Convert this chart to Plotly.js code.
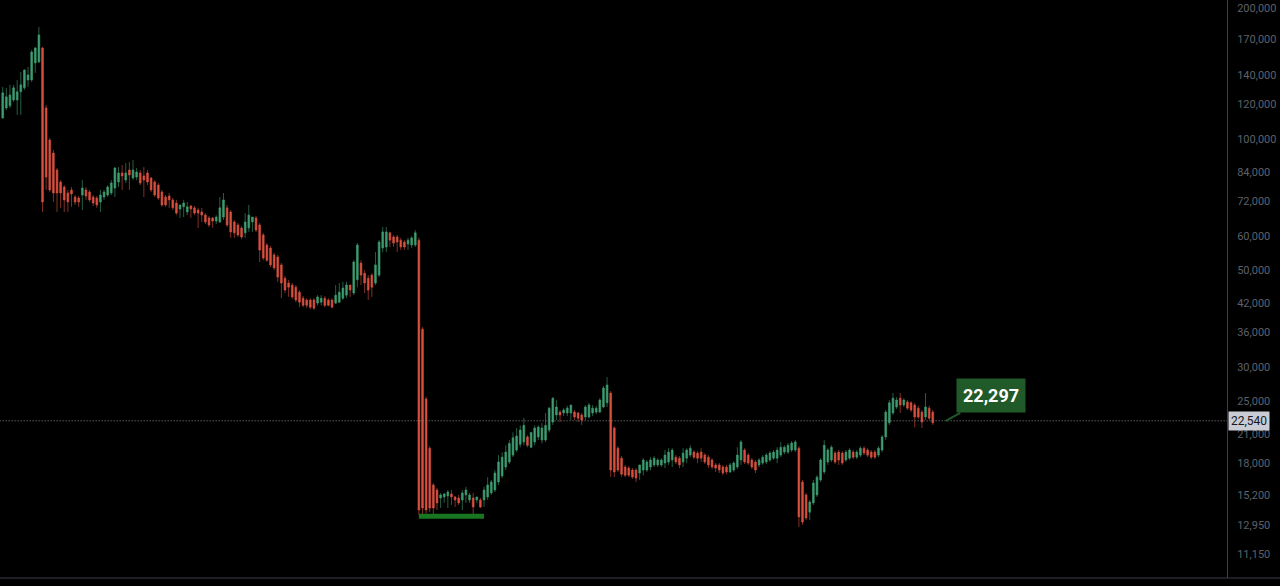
<!DOCTYPE html>
<html><head><meta charset="utf-8">
<script src="https://cdn.plot.ly/plotly-3.0.1.min.js"></script>
<style>html,body{margin:0;padding:0;background:#000;}#chart{width:1280px;height:586px;}</style>
</head><body><div id="chart"></div>
<script>
const openPrices = [
111800,117900,119200,123000,123000,128400,131100,136700,136700,149600,
150300,161900,117900,99500,92900,84900,79700,77600,75200,76400,
73600,73200,74400,76400,75600,73600,73200,71700,73600,74400,
75200,77200,79700,83600,80500,84900,81400,81800,83600,82300,
83600,81400,79700,78400,75600,73600,74000,72500,71300,69100,
69900,68000,70200,69500,68700,68000,66900,65900,65900,64800,
64500,66200,69500,68000,64500,63500,62500,60900,62500,64500,
65900,63500,60200,57100,56200,54200,53600,51400,47900,46700,
46200,45700,44500,43100,42700,42700,42700,42000,42200,43100,
42700,42700,42000,42200,43100,43800,46200,44300,47500,51900,
49200,47900,48700,46700,48700,56200,56500,60900,59600,59600,
58600,58000,57400,57100,57100,58600,36600,25300,19500,16050,
15630,14990,15070,15150,15310,15070,14990,14830,15230,14830,
14990,14830,14830,14830,15070,15390,15630,16310,16840,17650,
18130,18800,19310,19900,20150,20700,19600,20150,20700,20360,
20360,21460,22400,23250,23600,23500,23500,23500,23600,23500,
23250,23000,23000,23500,23600,23600,24250,24800,26100,21700,
19500,18500,17650,17550,17370,17370,17100,17370,17370,17650,
17850,17850,17850,18030,18130,18320,18600,18500,18130,18500,
18800,19100,19000,19100,18800,18600,18320,17850,17850,17650,
17650,17200,17370,17650,18320,19310,18800,18320,18130,17850,
18030,18130,18320,18500,18500,18800,19100,19100,19310,19310,
19500,16310,15230,13900,14600,15230,16480,17200,18130,18320,
19000,19100,19000,18320,18500,19100,18600,18800,19500,19310,
19100,19100,18800,19310,20700,22300,23500,24250,25400,24500,
24900,24800,24500,24100,23600,23000,24100,23600];
const highPrices = [
131800,131100,133200,133200,136700,142600,144500,146400,160200,162800,
181000,162800,119800,100600,94400,85800,80500,78400,76400,77600,
74400,74000,80500,77600,76400,74400,74000,76400,76400,78400,
80500,86300,86300,87200,88100,88600,89500,85800,84900,86300,
84900,81800,80500,79300,76400,74400,75200,73200,72500,70600,
72500,71700,70600,70200,69500,69500,67600,66600,66200,66900,
73600,75200,70600,68700,65200,64200,63100,67600,70600,66200,
66600,64200,60900,57700,56800,54800,54200,51900,48500,47500,
46700,46200,45000,43600,43100,43100,43100,43800,43800,43600,
43100,43100,46200,46700,47000,47000,46300,52700,57700,52700,
50000,48700,49200,55000,58600,62800,62800,61200,60200,60200,
59300,58600,59300,59900,61800,59300,37000,25600,19700,16200,
15800,15390,15390,15630,15630,15150,15230,15630,15900,15390,
15390,15070,14990,15900,16730,16480,17370,18800,19100,19800,
20360,21200,21700,22000,22900,20900,21200,22000,22000,22300,
23500,24250,25550,25150,23860,24100,24400,24500,23860,23600,
23500,24500,24800,24500,24400,25400,27100,28400,26400,21900,
19700,18700,17850,17750,17550,17550,17850,18500,18320,18600,
18700,18500,18500,19310,19500,19500,18800,18700,19500,19500,
19800,19310,19200,19500,19000,18800,18500,18030,18030,17850,
17850,18030,18200,19600,20360,19500,19000,18500,18320,18500,
18800,19000,19200,19310,19600,20150,19800,20040,20250,20360,
19700,16480,15390,14830,16480,16900,18500,20360,19500,19800,
19200,19310,19200,19310,19500,19310,19310,19700,19700,19500,
19310,19310,19700,20900,23860,25150,26100,25550,26100,25400,
25150,25000,24800,24400,23860,26100,24400,23860];
const lowPrices = [
111500,116600,117900,121700,113600,113600,129700,131800,135300,141900,
149600,68000,76400,75600,71700,68000,69500,68000,68000,69900,
70600,69900,68700,72500,71700,70200,69500,68000,72500,73600,
74400,73600,77600,76400,79300,76400,80500,80500,78400,73600,
78400,75600,73600,72500,69900,69900,69500,68700,66900,65900,
66200,66900,65900,66900,62500,64500,63800,62800,62500,63800,
64200,65200,62800,59300,59300,59600,58900,59300,61200,61200,
61200,52200,52700,52200,50800,50000,47000,43100,44300,43400,
42900,42200,41100,41100,40900,40700,40500,41500,41500,41100,
41300,40900,41800,42000,42700,43100,43400,43800,45700,46200,
44300,42700,43400,46200,48200,55000,55000,56500,56500,55000,
55600,55600,55600,56200,56500,13700,13700,13800,13900,13600,
14060,14210,14600,14210,14440,14290,14440,14060,14600,14600,
13500,14600,14210,14290,14830,15230,15470,16050,16650,17370,
17940,18600,19100,19600,19800,19600,19500,19800,20360,20000,
20150,21200,22050,22630,22400,23100,23100,22630,22630,22400,
22050,22630,22850,23100,23350,23500,24100,24250,16750,16750,
17200,16750,16750,16750,16570,16310,16480,16900,17200,17370,
17650,17650,17650,17550,17850,17650,17940,17550,17650,18030,
18600,18400,18030,18130,17940,17550,17460,17200,17100,16900,
17000,17100,17200,17460,17850,17940,17850,17460,17100,17650,
17850,17940,18130,18320,18030,18600,18900,18900,19100,19100,
12860,13000,13340,13340,14440,15070,16310,17000,17850,18130,
17940,17850,17850,18130,18320,18400,18400,18600,18800,18600,
18400,18400,18600,19100,20360,22050,23250,24000,23500,24250,
23860,23600,21800,22750,21700,22630,22630,22050];
const closePrices = [
127700,125000,126300,131100,128400,133200,144100,140400,158500,161900,
173500,71700,81800,76400,75200,75200,75200,72500,71700,74800,
71700,71700,77200,74000,72500,71300,70600,74400,75600,77600,
79300,85800,83600,82300,83600,82700,84900,84000,79300,80500,
79700,76400,74400,73200,70600,70600,72500,69500,67600,70600,
71300,69900,69100,67600,67600,66900,64500,63500,64800,66200,
69500,72500,63500,61200,60900,60200,59600,64500,66900,66200,
61800,55600,53300,52700,51400,50600,48200,46700,45000,45700,
43400,42700,42200,41500,41500,41100,40900,43400,43100,41500,
41500,41100,43800,44500,45500,46200,45000,52200,57100,48700,
46700,45000,45700,51400,58000,61200,61200,58600,57700,58000,
56500,56500,58600,59300,60900,14060,14210,14060,14210,14210,
14600,15230,15310,15470,15070,14830,14600,15390,15630,15230,
14290,15070,14290,15630,16050,16310,17100,18130,18600,19100,
20000,20600,20800,21460,22000,19800,21200,21700,21800,21700,
22000,24100,25400,24250,23250,23860,24100,24500,23000,22850,
22630,24250,24500,24100,24100,25150,26800,27240,17370,17200,
17370,17000,16900,16900,16750,16650,17850,18320,18130,18320,
18500,18320,18320,18800,19100,19310,18130,17850,19000,19310,
19500,18600,18500,18500,18130,17850,17650,17550,17370,17100,
17200,17850,18030,18800,20150,18130,18030,17650,17370,18320,
18600,18800,19000,19100,19310,19600,19600,19800,20040,20150,
13560,13200,13480,14670,16220,16730,18320,19800,19310,19600,
18130,18320,18030,19100,19310,18600,19100,19500,19000,18800,
18600,18600,19500,20700,23600,24800,25400,25150,24500,25150,
24100,23860,23000,23000,22400,24250,22850,22297];

const tickValues = [200000,170000,140000,120000,100000,84000,72000,60000,50000,42000,36000,30000,25000,21000,18000,15200,12950,11150];
const tickLabels = ['200,000','170,000','140,000','120,000','100,000','84,000','72,000','60,000','50,000','42,000','36,000','30,000','25,000','21,000','18,000','15,200','12,950','11,150'];

const lastPrice = 22297;
const lastPriceText = '22,297';
const markPrice = 22540;
const markPriceText = '22,540';
const supportLevel = 13600;
const supportStart = 115;
const supportEnd = 133;

const idx = closePrices.map((_, i) => i);
const lastIdx = idx[idx.length - 1];

const candles = {
  type: 'candlestick', x: idx,
  open: openPrices, high: highPrices, low: lowPrices, close: closePrices,
  increasing: {line: {color: '#3e9e72', width: 0.6}, fillcolor: '#3e9e72'},
  decreasing: {line: {color: '#d9513f', width: 0.6}, fillcolor: '#d9513f'},
  whiskerwidth: 0, hoverinfo: 'none'
};
const markLine = {
  type: 'scatter', mode: 'lines', x: [-5, 400], y: [markPrice, markPrice],
  line: {color: '#8a8a8a', width: 1, dash: '1px,2px'}, hoverinfo: 'none'
};
const support = {
  type: 'scatter', mode: 'lines', x: [supportStart, supportEnd], y: [supportLevel, supportLevel],
  line: {color: '#17761f', width: 5}, hoverinfo: 'none'
};

const layout = {
  width: 1280, height: 586,
  paper_bgcolor: '#000000', plot_bgcolor: '#000000',
  margin: {l: 0, r: 53, t: 0, b: 8},
  showlegend: false,
  xaxis: {range: [-0.75, 338.3], showgrid: false, zeroline: false, showticklabels: false,
          ticks: '', rangeslider: {visible: false}, showline: false, fixedrange: true},
  yaxis: {type: 'log', side: 'right', range: [3.9919, 5.3194], tickmode: 'array',
          tickvals: tickValues, ticktext: tickLabels, showgrid: false, zeroline: false,
          showline: true, linecolor: '#3b3e47', linewidth: 1, ticks: '', ticklabelstandoff: 7,
          tickfont: {family: 'Roboto, sans-serif', size: 11, color: '#5d606b'}, fixedrange: true},
  shapes: [{type: 'line', xref: 'paper', yref: 'paper', x0: 0, x1: 1.05, y0: 0, y1: 0,
            line: {color: '#3b3e47', width: 1}}],
  annotations: [
    {xref: 'paper', x: 1, xanchor: 'left', yref: 'y', y: Math.log10(markPrice), yanchor: 'middle',
     text: markPriceText, showarrow: false, bgcolor: '#c9ccd4', borderpad: 2, xshift: 1,
     font: {family: 'Roboto, sans-serif', size: 12, color: '#131722'}},
    {xref: 'x', x: lastIdx + 3.6, yref: 'y', y: Math.log10(markPrice),
     text: '<b>' + lastPriceText + '</b>', showarrow: true, arrowhead: 0, arrowwidth: 2,
     arrowcolor: '#215a29', ax: 45, ay: -25, bgcolor: '#215a29', borderpad: 6,
     font: {family: 'Roboto, sans-serif', size: 18, color: '#ffffff'}}
  ]
};

Plotly.newPlot('chart', [markLine, support, candles], layout, {displayModeBar: false, staticPlot: true});
</script>
</body></html>
